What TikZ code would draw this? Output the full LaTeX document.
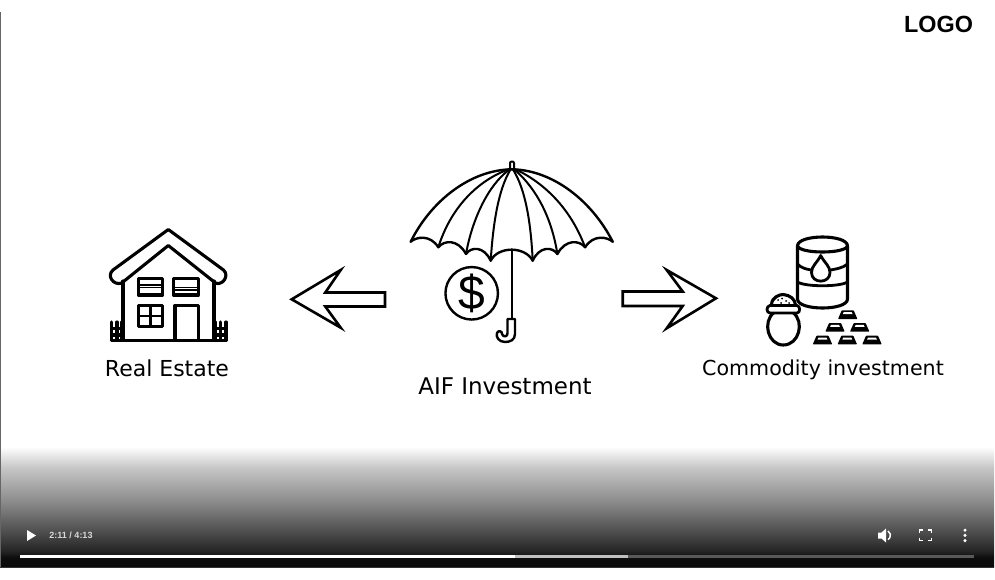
\documentclass[tikz,border=0pt]{standalone}
\usepackage{fontspec}
\setmainfont{DejaVu Sans}
\newfontfamily\uifont{Liberation Sans}
\pgfdeclareverticalshading{playerfade}{100bp}{
  gray(0bp)=(0.04);
  gray(25bp)=(0.04);
  gray(29bp)=(0.05);
  gray(31.5bp)=(0.14);
  gray(38.5bp)=(0.28);
  gray(52.5bp)=(0.55);
  gray(66.5bp)=(0.78);
  gray(75bp)=(1);
  gray(100bp)=(1)}
\tikzset{
  ink/.style={draw=black,line width=2.4pt,line join=round,line cap=round},
  thinink/.style={draw=black,line width=2pt,line join=round,line cap=round},
  heavyink/.style={draw=black,line width=3.1pt,line join=round,line cap=round},
  arrowshape/.style={draw=black,line width=2.6pt,line join=miter,fill=white},
  caption/.style={text=black,inner sep=0pt,anchor=center},
  uiglyph/.style={fill=white,draw=none},
}
\newcommand{\goldbar}[2]{%
  \fill[black,rounded corners=0.6pt] (#1-9.7,#2) -- (#1-6,#2-8.6) -- (#1+6,#2-8.6) -- (#1+9.7,#2) -- cycle;
  \fill[white] (#1-4,#2-6.8) -- (#1+4,#2-6.8) -- (#1+4.9,#2-4.8) -- (#1-4.9,#2-4.8) -- cycle;
}
\begin{document}
\begin{tikzpicture}[x=1pt,y=-1pt]
\useasboundingbox (0,0) rectangle (995,580);
\fill[white] (0,0) rectangle (995,580);
% player chrome
\shade[shading=playerfade] (0,447) rectangle (994,567);
\fill[black!80] (0,566.7) rectangle (994,568);
\fill[black!60] (0,12) rectangle (1.2,567);
% logo
\node[caption,font=\uifont\bfseries\fontsize{23.4}{24}\selectfont] (logo) at (938.5,24) {LOGO};
% house
\draw[heavyink] (121.7,283) .. controls (114,286) and (106,276) .. (113,270) -- (168.3,229.5) -- (223.5,270) .. controls (230,276) and (222,286) .. (215.5,283) -- (168.3,245.5) -- cycle;
\draw[heavyink] (123,281) -- (123,340) (214,281) -- (214,340) (111.5,340.5) -- (226.5,340.5);
\draw[heavyink] (138.3,278.5) rectangle (162.7,295);
\draw[ink,line width=1.3pt] (138.3,285) -- (162.7,285) (138.3,287.5) -- (162.7,287.5);
\draw[heavyink] (173.5,278.5) rectangle (198.5,295);
\draw[ink,line width=1.3pt] (173.5,287.5) -- (198.5,287.5) (173.5,290) -- (198.5,290);
\draw[heavyink] (138.3,305.5) rectangle (162.7,326.5);
\draw[ink,line width=2.3pt] (150.5,305.5) -- (150.5,326.5) (138.3,316) -- (162.7,316);
\draw[heavyink] (175,340) -- (175,305.5) -- (198.5,305.5) -- (198.5,340);
\draw[heavyink] (111.5,322) -- (111.5,340) (117,322) -- (117,340) (122,322) -- (122,340) (111.5,328.5) -- (123,328.5) (111.5,335) -- (123,335);
\draw[heavyink] (215,322) -- (215,340) (220.5,322) -- (220.5,340) (226,322) -- (226,340) (214,328.5) -- (226,328.5) (214,335) -- (226,335);
\node[caption,font=\fontsize{22}{24}\selectfont] (realestate) at (167,368.5) {Real Estate};
% left arrow
\draw[arrowshape] (291.7,299.3) -- (340.7,270) -- (325.3,292.5) -- (385,292.5) -- (385,306.5) -- (325.3,306.5) -- (340.7,327.7) -- cycle;
% umbrella
\draw[thinink,fill=white] (510,169) -- (510,163) .. controls (510,161) and (514,161) .. (514,163) -- (514,169);
\draw[ink] (410.7,241.7) .. controls (431,201) and (470,170) .. (511.7,169.3) .. controls (553,170) and (592,201) .. (612.7,241.7);
\draw[ink] (410.7,241.7) .. controls (416,237) and (430,234) .. (438.3,247.3)
  .. controls (444,240) and (458,239) .. (466,254)
  .. controls (471,246.5) and (484,246) .. (490.7,260.7)
  .. controls (498,246) and (525,246) .. (532.7,260.7)
  .. controls (539.4,246) and (552.4,246.5) .. (557.4,254)
  .. controls (565.4,239) and (579.4,240) .. (585.1,247.3)
  .. controls (593.4,234) and (607.4,237) .. (612.7,241.7);
\draw[thinink] (438.3,247.3) .. controls (450,210) and (475,182) .. (508,169.5);
\draw[thinink] (466,254) .. controls (472,220) and (488,185) .. (509.5,169.5);
\draw[thinink] (490.7,260.7) .. controls (493,225) and (498,190) .. (510.5,169.5);
\draw[thinink] (532.7,260.7) .. controls (531,225) and (526,190) .. (513,169.5);
\draw[thinink] (557.4,254) .. controls (552,220) and (538,190) .. (514.5,169.5);
\draw[thinink] (585.1,247.3) .. controls (572,212) and (548,185) .. (516,169.5);
\draw[ink] (511.7,249.5) -- (511.7,319);
\draw[ink,fill=white] (507.5,319) -- (515,319) -- (515,334) .. controls (515,340) and (510,342) .. (505,342) .. controls (499,342) and (495.5,337) .. (497,333) .. controls (498,330) and (502.5,331) .. (502,334) .. controls (503,337.5) and (508,337) .. (507.5,333) -- cycle;
\node[circle,draw=black,line width=2.4pt,minimum size=52.5pt,inner sep=0pt] (coin) at (471.7,293.3) {};
\node[caption,font=\uifont\fontsize{48}{48}\selectfont] (dollar) at (471.7,293.3) {\$};
\node[caption,font=\fontsize{23}{24}\selectfont] (aif) at (505,386) {AIF Investment};
% right arrow
\draw[arrowshape] (622.7,291.5) -- (682.7,291.5) -- (666.7,270) -- (716,298.3) -- (666.7,328.3) -- (682.7,306) -- (622.7,306) -- cycle;
% barrel
\draw[heavyink,fill=white] (797.5,246) .. controls (797.5,234) and (847.5,234) .. (847.5,246) -- (847.5,299) .. controls (847.5,311) and (797.5,311) .. (797.5,299) -- cycle;
\draw[heavyink] (797.5,246) .. controls (800,254) and (845,254) .. (847.5,246);
\draw[ink,line width=2.8pt] (797.5,264) .. controls (801,268) and (806,269) .. (811,270) (830.5,270) .. controls (836,269) and (843,268) .. (847.5,264);
\draw[ink,line width=2.8pt] (797.5,282) .. controls (805,287) and (840,287) .. (847.5,282);
\draw[ink,line width=2.8pt,fill=white] (820.7,255.5) .. controls (817,263) and (811.5,266) .. (811.5,272.5) .. controls (811.5,284) and (830,284) .. (830,272.5) .. controls (830,266) and (824.5,263) .. (820.7,255.5) -- cycle;
% pot
\draw[heavyink,fill=white] (774,312.5) .. controls (762,322) and (768,345) .. (783.3,345) .. controls (799,345) and (805,322) .. (793,312.5);
\draw[heavyink,fill=white] (771.5,305) .. controls (771.5,297) and (780,294.5) .. (783,294.5) .. controls (790,295) and (795,299) .. (795.5,305);
\draw[heavyink,line width=2.8pt,fill=white] (770,305.5) -- (797,305.5) .. controls (800.5,306) and (800.5,313) .. (797,313) -- (770,313) .. controls (766,313) and (766,306) .. (770,305.5) -- cycle;
\fill[black] (778,300) circle (1) (782,298.5) circle (1) (786,301) circle (1) (781,303) circle (1) (789,303) circle (1);
% gold bars
\goldbar{822.5}{344.3}
\goldbar{847.3}{344.3}
\goldbar{872}{344.3}
\goldbar{835}{331.7}
\goldbar{859.7}{331.7}
\goldbar{847.7}{319}
\node[caption,font=\fontsize{20.6}{24}\selectfont] (commodity) at (823,369.5) {Commodity investment};
% player controls
\fill[uiglyph] (27,530) -- (36,535.5) -- (27,541) -- cycle;
\node[caption,text=white!85!black,font=\uifont\bfseries\fontsize{9}{10}\selectfont] (timer) at (71,535) {2:11 / 4:13};
\fill[white!35!black] (20,555.2) rectangle (974,557.8);
\fill[white!75!black] (20,555.2) rectangle (628,557.8);
\fill[white] (20,555.2) rectangle (515,557.8);
\fill[uiglyph] (878,532.5) -- (881.5,532.5) -- (886,528.5) -- (886,542.5) -- (881.5,538.5) -- (878,538.5) -- cycle;
\draw[white,line width=1.5pt] (888,531) arc[start angle=-60,end angle=60,radius=5];
\draw[white,line width=1.5pt] (923,530) -- (919.7,530) -- (919.7,533) (928,530) -- (931.3,530) -- (931.3,533) (919.7,537.5) -- (919.7,540.5) -- (923,540.5) (931.3,537.5) -- (931.3,540.5) -- (928,540.5);
\fill[uiglyph] (965,530.2) circle (1.7) (965,535.4) circle (1.7) (965,540.6) circle (1.7);
\end{tikzpicture}
\end{document}
